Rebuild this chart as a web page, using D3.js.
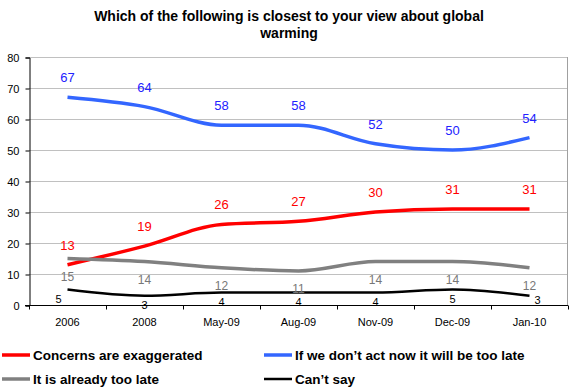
<!DOCTYPE html>
<html>
<head>
<meta charset="utf-8">
<script src="https://cdn.jsdelivr.net/npm/d3@7"></script>
<style>
  body { margin: 0; background: #fff; }
  svg { font-family: "Liberation Sans", Arial, sans-serif; }
</style>
</head>
<body>
<div id="chart"></div>
<script>
// data
const categories = ['2006', '2008', 'May-09', 'Aug-09', 'Nov-09', 'Dec-09', 'Jan-10'];
const concerns = [13, 19, 26, 27, 30, 31, 31];
const actNow = [67, 64, 58, 58, 52, 50, 54];
const tooLate = [15, 14, 12, 11, 14, 14, 12];
const cantSay = [5, 3, 4, 4, 4, 5, 3];
const yTicks = [0, 10, 20, 30, 40, 50, 60, 70, 80];

const W = 578, H = 392;
const margin = {left: 29, right: 10, top: 57, bottom: 87};

const svg = d3.select('#chart').append('svg')
    .attr('width', W)
    .attr('height', H);

const x = d3.scaleBand().domain(categories).range([margin.left, W - margin.right]);
const y = d3.scaleLinear().domain([0, 80]).range([H - margin.bottom, margin.top]);
const cx = d => x(d) + x.bandwidth() / 2;

// title
svg.append('text')
    .attr('x', 289).attr('y', 21)
    .attr('text-anchor', 'middle')
    .style('font-weight', 'bold').style('font-size', '14px')
    .text('Which of the following is closest to your view about global');
svg.append('text')
    .attr('x', 289).attr('y', 38)
    .attr('text-anchor', 'middle')
    .style('font-weight', 'bold').style('font-size', '14px')
    .text('warming');

// gridlines
svg.append('g').selectAll('line').data(yTicks.filter(d => d > 0)).enter()
    .append('line')
    .attr('x1', margin.left).attr('x2', W - margin.right)
    .attr('y1', d => Math.round(y(d)) + 0.5).attr('y2', d => Math.round(y(d)) + 0.5)
    .style('stroke', '#c0c0c0');

// right border of plot area
svg.append('line')
    .attr('x1', W - margin.right - 0.5).attr('x2', W - margin.right - 0.5)
    .attr('y1', y(80)).attr('y2', y(0))
    .style('stroke', '#a0a0a0');

// y axis
const yAxis = svg.append('g')
    .attr('transform', 'translate(' + (margin.left + 0.5) + ',0.5)')
    .call(d3.axisLeft(y).tickValues(yTicks).tickSize(4).tickPadding(6));
yAxis.selectAll('text').style('font-size', '11px').style('fill', '#000');
yAxis.selectAll('line, path').style('stroke', '#000');

// x axis
const xAxis = svg.append('g')
    .attr('transform', 'translate(0,' + (Math.round(y(0)) + 0.5) + ')');
xAxis.append('line')
    .attr('x1', margin.left - 4).attr('x2', W - margin.right)
    .style('stroke', '#000');
xAxis.selectAll('.tick').data(d3.range(categories.length + 1)).enter()
    .append('line')
    .attr('x1', i => Math.round(margin.left + i * x.step()) + 0.5)
    .attr('x2', i => Math.round(margin.left + i * x.step()) + 0.5)
    .attr('y1', 0).attr('y2', 4)
    .style('stroke', '#000');
xAxis.selectAll('.lbl').data(categories).enter()
    .append('text')
    .attr('x', d => cx(d))
    .attr('y', 20)
    .attr('text-anchor', 'middle')
    .style('font-size', '11px')
    .text(d => d);

const line = d3.line()
    .x((d, i) => cx(categories[i]))
    .y(d => y(d))
    .curve(d3.curveMonotoneX);

const series = [
    {name: 'Concerns are exaggerated', values: concerns, color: '#ff0000', label: '#ff0000', width: 3.5, dy: -15, size: 13},
    {name: 'If we don\u2019t act now it will be too late', values: actNow, color: '#3366ff', label: '#2222ff', width: 3.5, dy: -15, size: 13},
    {name: 'It is already too late', values: tooLate, color: '#808080', label: '#777777', width: 3.5, dy: 22, size: 12},
    {name: 'Can\u2019t say', values: cantSay, color: '#000000', label: '#000000', width: 2.5, dy: 13, size: 11}
];

series.forEach(s => {
    svg.append('path')
        .datum(s.values)
        .attr('d', line)
        .style('fill', 'none')
        .style('stroke', s.color)
        .style('stroke-width', s.width);
});

series.forEach(s => {
    svg.selectAll(null).data(s.values).enter()
        .append('text')
        .attr('x', (d, i) => {
            let px = cx(categories[i]);
            if (s.values === cantSay && i === 0) px -= 9;
            if (s.values === cantSay && i === categories.length - 1) px += 8;
            return px;
        })
        .attr('y', (d, i) => {
            let dy = s.dy;
            if (s.values === cantSay && i === categories.length - 1) dy = 8;
            return y(d) + dy;
        })
        .attr('text-anchor', 'middle')
        .style('font-size', s.size + 'px')
        .style('fill', s.label)
        .text(d => d);
});

// legend
const legendPos = [[2, 355], [264, 355], [2, 379], [264, 379]];
series.forEach((s, j) => {
    const g = svg.append('g').attr('transform', 'translate(' + legendPos[j][0] + ',' + legendPos[j][1] + ')');
    g.append('line')
        .attr('x1', 0).attr('x2', 28)
        .style('stroke', s.color)
        .style('stroke-width', s.width);
    g.append('text')
        .attr('x', 31).attr('y', 5)
        .style('font-weight', 'bold').style('font-size', '13.5px')
        .text(s.name);
});
</script>
</body>
</html>
